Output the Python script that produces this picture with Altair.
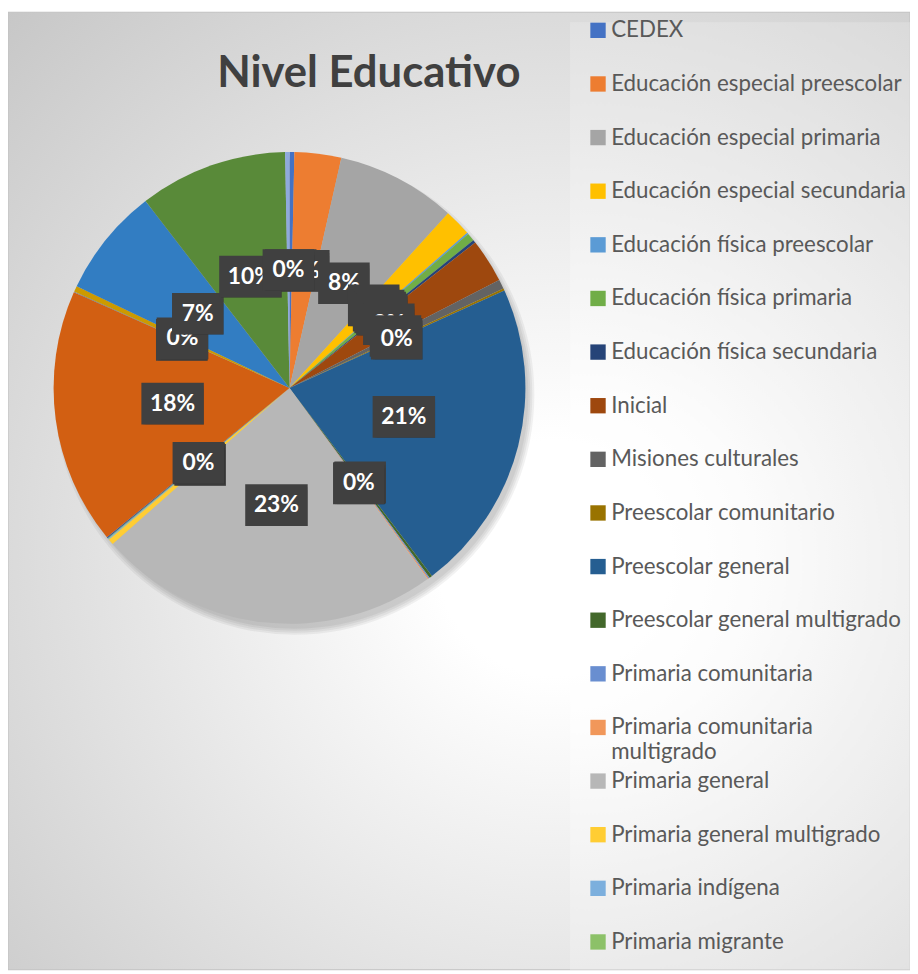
import altair as alt
import pandas as pd

# ---------------- data ----------------
names = [
    "CEDEX",
    "Educación especial preescolar",
    "Educación especial primaria",
    "Educación especial secundaria",
    "Educación física preescolar",
    "Educación física primaria",
    "Educación física secundaria",
    "Inicial",
    "Misiones culturales",
    "Preescolar comunitario",
    "Preescolar general",
    "Preescolar general multigrado",
    "Primaria comunitaria",
    "Primaria comunitaria multigrado",
    "Primaria general",
    "Primaria general multigrado",
    "Primaria indígena",
    "Primaria migrante",
    "Secundaria comunitaria",
    "Secundaria general",
    "Secundaria migrante",
    "Secundaria para trabajadores",
    "Secundaria técnica",
    "Telesecundaria",
    "USAER",
]
values = [0.33, 3.20, 8.20, 1.85, 0.10, 0.55, 0.20, 3.00, 0.65, 0.15,
          21.45, 0.20, 0.08, 0.08, 23.45, 0.40, 0.06, 0.06, 0.08, 17.55,
          0.06, 0.40, 7.45, 10.15, 0.30]
colors = [
    "#4472C4", "#ED7D31", "#A5A5A5", "#FFC000", "#5B9BD5", "#70AD47",
    "#264478", "#9E480E", "#636363", "#997300", "#255E91", "#43682B",
    "#698ED0", "#F1975A", "#B7B7B7", "#FFCD33", "#7CAFDD", "#8CC168",
    "#3359A1", "#D25F12", "#848484", "#CC9A00", "#327DC2", "#598A39",
    "#8FAADC",
]
legend_names = names[:18]
title_text = "Nivel Educativo"

# ---------------- layout ----------------
W, H = 910, 966
CX, CY, R = 284, 379, 238
LR = 119  # label radius

df = pd.DataFrame({"nivel": names, "valor": values, "orden": list(range(len(names)))})
one = pd.DataFrame({"k": [0]})
xs = alt.Scale(domain=[0, W], range=[0, W])
ys = alt.Scale(domain=[0, H], range=[0, H])

bg = alt.Chart(one).mark_rect(
    fill={"gradient": "radial", "x1": 0.6, "y1": 0.57, "r1": 0.0,
          "x2": 0.6, "y2": 0.57, "r2": 0.82,
          "stops": [{"offset": 0.15, "color": "#ffffff"},
                    {"offset": 1.0, "color": "#c6c6c6"}]},
    stroke="#c0c0c0", strokeWidth=1,
).encode(x=alt.value(0), x2=alt.value(W), y=alt.value(0), y2=alt.value(H))

legend_bg = alt.Chart(one).mark_rect(
    fill={"gradient": "radial", "x1": 0.35, "y1": 0.57, "r1": 0.0,
          "x2": 0.35, "y2": 0.57, "r2": 0.9,
          "stops": [{"offset": 0.2, "color": "#ffffff"},
                    {"offset": 1.0, "color": "#d4d4d4"}]},
    opacity=0.5,
).encode(x=alt.value(567), x2=alt.value(W), y=alt.value(10), y2=alt.value(H))

shadows = [
    alt.Chart(one).mark_arc(theta=0, theta2=6.2832, outerRadius=R + k,
                            fill="#000000", opacity=0.05).encode(
        x=alt.value(CX + 5), y=alt.value(CY + 7))
    for k in (4, 2, 0, -2)
]

pie = alt.Chart(df).mark_arc(outerRadius=R, strokeWidth=0).encode(
    theta=alt.Theta("valor:Q", stack=True),
    order=alt.Order("orden:Q"),
    color=alt.Color(
        "nivel:N",
        scale=alt.Scale(domain=names, range=colors),
        legend=alt.Legend(
            orient="none", legendX=584, legendY=7, title=None,
            values=legend_names, symbolType="square", symbolSize=240,
            symbolStrokeWidth=0, labelFont="Lato", labelFontSize=22.5,
            labelColor="#595959", labelOffset=2, labelLimit=400,
            gridAlign="all", rowPadding=6.1, padding=0,
            labelExpr="datum.label == 'Primaria comunitaria multigrado' ? ['Primaria comunitaria', 'multigrado'] : datum.label",
        ),
    ),
    x=alt.value(CX), y=alt.value(CY),
)

lab = alt.Chart(df).transform_window(
    cum="sum(valor)", sort=[alt.SortField("orden")], frame=[None, 0]
).transform_joinaggregate(total="sum(valor)").transform_calculate(
    ang="2*PI*(datum.cum - datum.valor/2)/datum.total",
    lx=f"{CX} + {LR}*sin(datum.ang)",
    ly=f"{CY} - {LR}*cos(datum.ang)",
    txt="format(datum.valor/datum.total, '.0%')",
    hw="length(datum.txt) > 2 ? 31.5 : 26",
    bx1="datum.lx - datum.hw",
    bx2="datum.lx + datum.hw",
    by1="datum.ly - 21",
    by2="datum.ly + 21",
)

label_layers = []
for i in range(len(names)):
    li = lab.transform_filter(f"datum.orden == {i}")
    enc_box = dict(
        x=alt.X("bx1:Q", scale=xs, axis=None), x2="bx2:Q",
        y=alt.Y("by1:Q", scale=ys, axis=None), y2="by2:Q",
    )
    label_layers.append(li.mark_rect(fill="#000000", opacity=0.15, xOffset=4, yOffset=6).encode(**enc_box))
    label_layers.append(li.mark_rect(fill="#000000", opacity=0.2, xOffset=2, yOffset=3).encode(**enc_box))
    label_layers.append(li.mark_rect(fill="#404040").encode(**enc_box))
    label_layers.append(
        li.mark_text(font="Lato", fontWeight="bold", fontSize=23, color="#ffffff",
                     align="center", baseline="middle").encode(
            x=alt.X("lx:Q", scale=xs, axis=None),
            y=alt.Y("ly:Q", scale=ys, axis=None),
            text="txt:N",
        )
    )

title = alt.Chart(pd.DataFrame({"t": [title_text]})).mark_text(
    font="Lato", fontWeight="bold", fontSize=44, color="#404040",
    align="center", baseline="middle",
).encode(text="t:N", x=alt.value(364), y=alt.value(62))

chart = alt.layer(bg, legend_bg, *shadows, pie, *label_layers, title).properties(
    width=W, height=H, padding=0, autosize=alt.AutoSizeParams(type="none"),
).configure_view(stroke=None)

chart.save("out.html", embed_options={"renderer": "svg", "actions": False})
